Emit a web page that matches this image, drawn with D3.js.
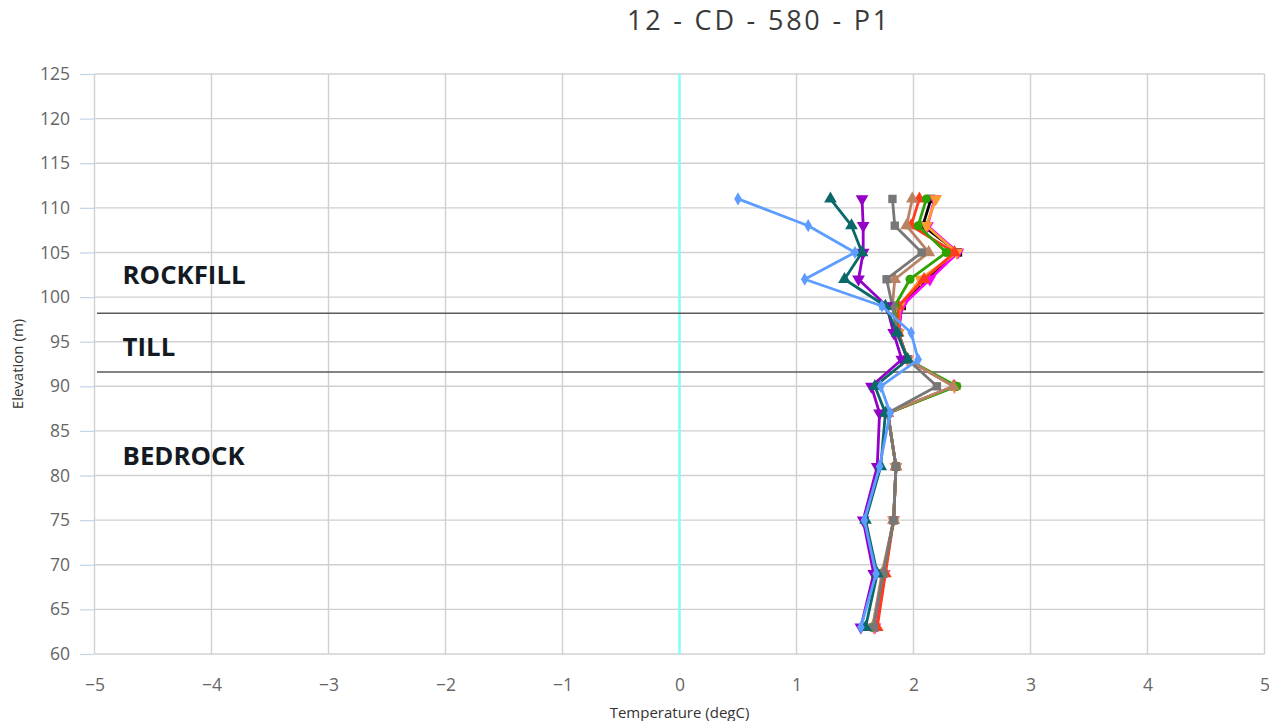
<!DOCTYPE html>
<html>
<head>
<meta charset="utf-8">
<script src="https://cdn.jsdelivr.net/npm/d3@7"></script>
<style>
  html, body { margin: 0; padding: 0; background: #fff; }
  svg { display: block; }
</style>
</head>
<body>
<svg id="chart" width="1269" height="721"></svg>
<script>
// ---- data ----
const chartTitle = "12 - CD - 580 - P1";
const xTitle = "Temperature (degC)";
const yTitle = "Elevation (m)";
const xTicks = [-5, -4, -3, -2, -1, 0, 1, 2, 3, 4, 5];
const yTicks = [60, 65, 70, 75, 80, 85, 90, 95, 100, 105, 110, 115, 120, 125];
const elevations = [111, 108, 105, 102, 99, 96, 93, 90, 87, 81, 75, 69, 63];

const seriesBlack   = [2.15, 2.08, 2.38, 2.12, 1.90, 1.87, 1.95, 2.35, 1.78, 1.85, 1.83, 1.74, 1.67];
const seriesMagenta = [2.18, 2.12, 2.38, 2.14, 1.90, 1.87, 1.95, 2.35, 1.78, 1.85, 1.83, 1.75, 1.67];
const seriesOrange  = [2.19, 2.11, 2.37, 2.06, 1.88, 1.87, 1.95, 2.35, 1.78, 1.85, 1.83, 1.74, 1.66];
const seriesRed     = [2.05, 1.98, 2.35, 2.09, 1.87, 1.87, 1.95, 2.35, 1.78, 1.85, 1.83, 1.76, 1.69];
const seriesGreen   = [2.11, 2.04, 2.28, 1.97, 1.84, 1.86, 1.95, 2.37, 1.78, 1.85, 1.83, 1.74, 1.65];
const seriesBrown   = [1.99, 1.94, 2.13, 1.84, 1.82, 1.86, 1.95, 2.34, 1.78, 1.85, 1.83, 1.73, 1.65];
const seriesGrey    = [1.82, 1.84, 2.07, 1.77, 1.82, 1.86, 1.95, 2.20, 1.78, 1.85, 1.83, 1.74, 1.66];
const seriesPurple  = [1.56, 1.57, 1.57, 1.53, 1.77, 1.83, 1.90, 1.64, 1.71, 1.69, 1.57, 1.66, 1.55];
const seriesTeal    = [1.29, 1.47, 1.56, 1.41, 1.76, 1.86, 1.95, 1.67, 1.76, 1.72, 1.59, 1.69, 1.59];
const seriesBlue    = [0.50, 1.10, 1.50, 1.07, 1.73, 1.98, 2.04, 1.72, 1.80, 1.71, 1.58, 1.68, 1.55];

const seriesList = [
  { values: seriesBlack,   color: "#000000", symbol: "square" },
  { values: seriesMagenta, color: "#ff00ff", symbol: "triangle-down" },
  { values: seriesOrange,  color: "#ff9a2e", symbol: "triangle-down" },
  { values: seriesRed,     color: "#ff3b1f", symbol: "triangle" },
  { values: seriesGreen,   color: "#2ea300", symbol: "circle" },
  { values: seriesBrown,   color: "#b98263", symbol: "triangle" },
  { values: seriesGrey,    color: "#777777", symbol: "square" },
  { values: seriesPurple,  color: "#9400c8", symbol: "triangle-down" },
  { values: seriesTeal,    color: "#0b6868", symbol: "triangle" },
  { values: seriesBlue,    color: "#5c9dff", symbol: "diamond" }
];

const layerNames = ["ROCKFILL", "TILL", "BEDROCK"];
const layerLabelElev = [101.5, 93.4, 81.2];
const layerBoundaries = [98.2, 91.6];

// ---- layout ----
const svg = d3.select("#chart");
const plotL = 94.5, plotR = 1264.5, plotT = 74, plotB = 654;
const x = d3.scaleLinear().domain([-5, 5]).range([plotL, plotR]);
const y = d3.scaleLinear().domain([60, 125]).range([plotB, plotT]);
const font = "'Open Sans', 'DejaVu Sans', sans-serif";

// grid
svg.append("g").selectAll("line").data(yTicks).join("line")
  .attr("x1", plotL).attr("x2", plotR)
  .attr("y1", d => y(d)).attr("y2", d => y(d))
  .attr("stroke", "#d0d0d0").attr("stroke-width", 1.4);
svg.append("g").selectAll("line").data(xTicks).join("line")
  .attr("x1", d => x(d)).attr("x2", d => x(d))
  .attr("y1", plotT).attr("y2", plotB)
  .attr("stroke", "#d0d0d0").attr("stroke-width", 1.4);

// y axis
const yAxis = d3.axisLeft(y).tickValues(yTicks).tickSize(14).tickPadding(10).tickFormat(d3.format("d"));
const gy = svg.append("g").attr("transform", `translate(${plotL - 0.5},0)`).call(yAxis);
gy.select(".domain").remove();
gy.selectAll(".tick line").attr("stroke", "#c0d4ea").attr("stroke-width", 1.2);
gy.selectAll(".tick text").attr("fill", "#666").style("font-family", font).style("font-size", "17.5px");

// x axis
const xAxis = d3.axisBottom(x).tickValues(xTicks).tickSize(0).tickPadding(25).tickFormat(d3.format("d"));
const gx = svg.append("g").attr("transform", `translate(0,${plotB})`).call(xAxis);
gx.select(".domain").remove();
gx.selectAll(".tick text").attr("fill", "#666").style("font-family", font).style("font-size", "17.5px");

// zero line
svg.append("line")
  .attr("x1", x(0)).attr("x2", x(0)).attr("y1", plotT).attr("y2", plotB)
  .attr("stroke", "#80ffff").attr("stroke-width", 2.5);

// layer boundaries
svg.append("g").selectAll("line").data(layerBoundaries).join("line")
  .attr("x1", plotL + 2.5).attr("x2", plotR - 1)
  .attr("y1", d => y(d)).attr("y2", d => y(d))
  .attr("stroke", "#5a5a5a").attr("stroke-width", 1.5);

// layer labels
svg.append("g").selectAll("text").data(layerNames).join("text")
  .attr("x", x(-4.76))
  .attr("y", (d, i) => y(layerLabelElev[i]))
  .attr("fill", "#141a22")
  .style("font-family", font).style("font-weight", "bold").style("font-size", "25.8px")
  .text(d => d);

// series
const line = d3.line().x(d => x(d[0])).y(d => y(d[1]));
const symMap = {
  square: d3.symbolSquare, circle: d3.symbolCircle, triangle: d3.symbolTriangle,
  "triangle-down": d3.symbolTriangle, diamond: d3.symbolDiamond
};
const sg = svg.append("g");
seriesList.forEach(s => {
  const pts = s.values.map((v, i) => [v, elevations[i]]);
  sg.append("path").datum(pts).attr("d", line)
    .attr("fill", "none").attr("stroke", s.color).attr("stroke-width", 2.8)
    .attr("stroke-linejoin", "round");
  const sym = d3.symbol().type(symMap[s.symbol]).size(s.symbol === "circle" ? 64 : (s.symbol === "diamond" ? 50 : 70));
  sg.append("g").selectAll("path").data(pts).join("path")
    .attr("d", sym)
    .attr("transform", d => `translate(${x(d[0])},${y(d[1])})` + (s.symbol === "triangle-down" ? " rotate(180)" : ""))
    .attr("fill", s.color);
});

// titles
svg.append("text").attr("x", 759).attr("y", 30).attr("text-anchor", "middle")
  .attr("fill", "#3a3a3a").style("font-family", font).style("font-size", "27px")
  .style("letter-spacing", "2.8px")
  .text(chartTitle);
svg.append("text").attr("x", (plotL + plotR) / 2).attr("y", 718).attr("text-anchor", "middle")
  .attr("fill", "#333").style("font-family", font).style("font-size", "15px")
  .text(xTitle);
svg.append("text").attr("transform", `translate(23,364) rotate(-90)`).attr("text-anchor", "middle")
  .attr("fill", "#333").style("font-family", font).style("font-size", "15px")
  .text(yTitle);
</script>
</body>
</html>
